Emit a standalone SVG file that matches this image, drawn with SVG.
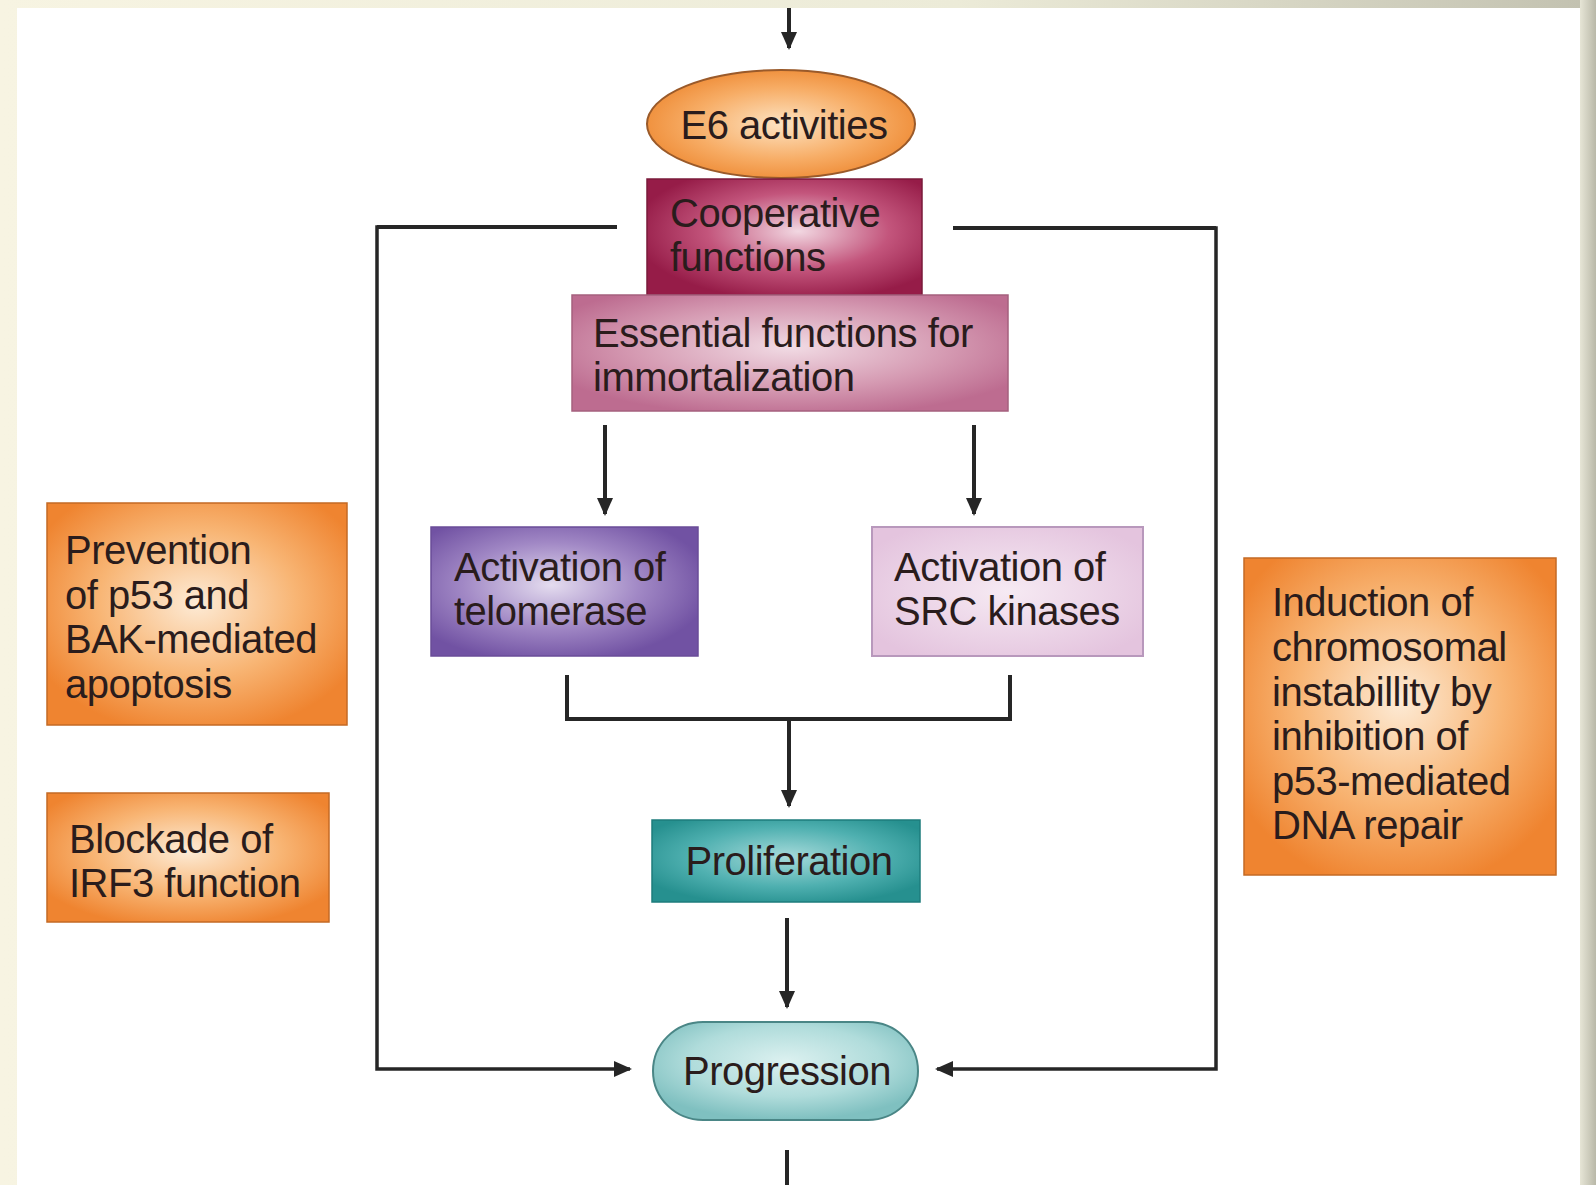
<svg xmlns="http://www.w3.org/2000/svg" width="1596" height="1185" viewBox="0 0 1596 1185">
<style>
.t{font-family:"Liberation Sans",Arial,sans-serif;font-size:40px;fill:#2a1c1c;letter-spacing:-0.5px}
.c{text-anchor:middle}
.ln{fill:none;stroke:#262626;stroke-width:4}
.br{fill:none;stroke:#262626;stroke-width:3.5}
</style>
<defs>
<linearGradient id="bgTop" x1="0" y1="0" x2="1" y2="0">
<stop offset="0" stop-color="#f7f4e2"/><stop offset="0.6" stop-color="#ecebd8"/><stop offset="1" stop-color="#c2c1b0"/>
</linearGradient>
<linearGradient id="bgRight" x1="0" y1="0" x2="1" y2="0">
<stop offset="0" stop-color="#e6e5d6"/><stop offset="1" stop-color="#b9b8a8"/>
</linearGradient>
<radialGradient id="gOr" cx="0.5" cy="0.45" r="0.6">
<stop offset="0" stop-color="#fdebd6"/><stop offset="0.55" stop-color="#f8b574"/><stop offset="1" stop-color="#ef8430"/>
</radialGradient>
<radialGradient id="gE6" cx="0.5" cy="0.5" r="0.55">
<stop offset="0" stop-color="#fde3c2"/><stop offset="0.6" stop-color="#f7ad66"/><stop offset="1" stop-color="#ee8a34"/>
</radialGradient>
<radialGradient id="gCoop" cx="0.55" cy="0.45" r="0.6">
<stop offset="0" stop-color="#f2d8e2"/><stop offset="0.55" stop-color="#c3557c"/><stop offset="1" stop-color="#961c48"/>
</radialGradient>
<radialGradient id="gEss" cx="0.5" cy="0.45" r="0.6">
<stop offset="0" stop-color="#f1dbe4"/><stop offset="0.6" stop-color="#d59ab2"/><stop offset="1" stop-color="#bd6c90"/>
</radialGradient>
<radialGradient id="gTel" cx="0.45" cy="0.45" r="0.6">
<stop offset="0" stop-color="#e4dcef"/><stop offset="0.55" stop-color="#a188c5"/><stop offset="1" stop-color="#7152a3"/>
</radialGradient>
<radialGradient id="gSrc" cx="0.5" cy="0.5" r="0.6">
<stop offset="0" stop-color="#f6eaf3"/><stop offset="1" stop-color="#e4c4de"/>
</radialGradient>
<radialGradient id="gPro" cx="0.5" cy="0.45" r="0.6">
<stop offset="0" stop-color="#a6dada"/><stop offset="0.6" stop-color="#4fb0b0"/><stop offset="1" stop-color="#26908f"/>
</radialGradient>
<radialGradient id="gPrg" cx="0.5" cy="0.4" r="0.6">
<stop offset="0" stop-color="#dcf1f0"/><stop offset="0.6" stop-color="#b0dcdb"/><stop offset="1" stop-color="#7fc0c0"/>
</radialGradient>
<marker id="ah" viewBox="0 0 18 16" refX="16" refY="8" markerWidth="18" markerHeight="16" markerUnits="userSpaceOnUse" orient="auto">
<path d="M0,0 L18,8 L0,16 z" fill="#262626"/>
</marker>
</defs>

<g id="background">
<rect x="0" y="0" width="1596" height="1185" fill="url(#bgTop)"/>
<rect x="1580" y="0" width="16" height="1185" fill="url(#bgRight)"/>
<rect x="17" y="8" width="1563" height="1177" fill="#ffffff"/>
</g>

<g id="connectors">
<line class="ln" x1="789" y1="8" x2="789" y2="48" marker-end="url(#ah)"/>
<polyline class="br" points="617,227 377,227 377,1069 630,1069" marker-end="url(#ah)"/>
<line class="ln" x1="617" y1="227" x2="377" y2="227" stroke-width="5"/>
<polyline class="br" points="953,228 1216,228 1216,1069 937,1069" marker-end="url(#ah)"/>
<line class="ln" x1="953" y1="228" x2="1216" y2="228" stroke-width="5"/>
<line class="ln" x1="605" y1="425" x2="605" y2="514" marker-end="url(#ah)"/>
<line class="ln" x1="974" y1="425" x2="974" y2="514" marker-end="url(#ah)"/>
<polyline class="ln" points="567,675 567,719 1010,719 1010,675"/>
<line class="ln" x1="789" y1="719" x2="789" y2="806" marker-end="url(#ah)"/>
<line class="ln" x1="787" y1="918" x2="787" y2="1007" marker-end="url(#ah)"/>
<line class="ln" x1="787" y1="1150" x2="787" y2="1185"/>
</g>

<g id="e6">
<ellipse cx="781" cy="124" rx="134" ry="54" fill="url(#gE6)" stroke="#9a5a2a" stroke-width="2"/>
<text class="t c" x="784" y="139">E6 activities</text>
</g>

<g id="cooperative">
<rect x="647" y="179" width="275" height="116" fill="url(#gCoop)" stroke="#7a1a3a" stroke-width="1.5"/>
<text class="t" x="670" y="227">Cooperative</text>
<text class="t" x="670" y="271">functions</text>
</g>

<g id="essential">
<rect x="572" y="295" width="436" height="116" fill="url(#gEss)" stroke="#a5607e" stroke-width="1.5"/>
<text class="t" x="593" y="347">Essential functions for</text>
<text class="t" x="593" y="391">immortalization</text>
</g>

<g id="telomerase">
<rect x="431" y="527" width="267" height="129" fill="url(#gTel)" stroke="#6a4c98" stroke-width="1.5"/>
<text class="t" x="454" y="581">Activation of</text>
<text class="t" x="454" y="625">telomerase</text>
</g>

<g id="src">
<rect x="872" y="527" width="271" height="129" fill="url(#gSrc)" stroke="#b898bc" stroke-width="2"/>
<text class="t" x="894" y="581">Activation of</text>
<text class="t" x="894" y="625">SRC kinases</text>
</g>

<g id="proliferation">
<rect x="652" y="820" width="268" height="82" fill="url(#gPro)" stroke="#1e7c7c" stroke-width="1.5"/>
<text class="t c" x="789" y="875">Proliferation</text>
</g>

<g id="progression">
<rect x="653" y="1022" width="265" height="98" rx="50" ry="49" fill="url(#gPrg)" stroke="#4a8686" stroke-width="2"/>
<text class="t c" x="787" y="1085">Progression</text>
</g>

<g id="prevention">
<rect x="47" y="503" width="300" height="222" fill="url(#gOr)" stroke="#c46a24" stroke-width="1.5"/>
<text class="t" x="65" y="564">Prevention</text>
<text class="t" x="65" y="609">of p53 and</text>
<text class="t" x="65" y="653">BAK-mediated</text>
<text class="t" x="65" y="698">apoptosis</text>
</g>

<g id="blockade">
<rect x="47" y="793" width="282" height="129" fill="url(#gOr)" stroke="#c46a24" stroke-width="1.5"/>
<text class="t" x="69" y="853">Blockade of</text>
<text class="t" x="69" y="897">IRF3 function</text>
</g>

<g id="induction">
<rect x="1244" y="558" width="312" height="317" fill="url(#gOr)" stroke="#c46a24" stroke-width="1.5"/>
<text class="t" x="1272" y="616">Induction of</text>
<text class="t" x="1272" y="661">chromosomal</text>
<text class="t" x="1272" y="706">instabillity by</text>
<text class="t" x="1272" y="750">inhibition of</text>
<text class="t" x="1272" y="795">p53-mediated</text>
<text class="t" x="1272" y="839">DNA repair</text>
</g>
</svg>
